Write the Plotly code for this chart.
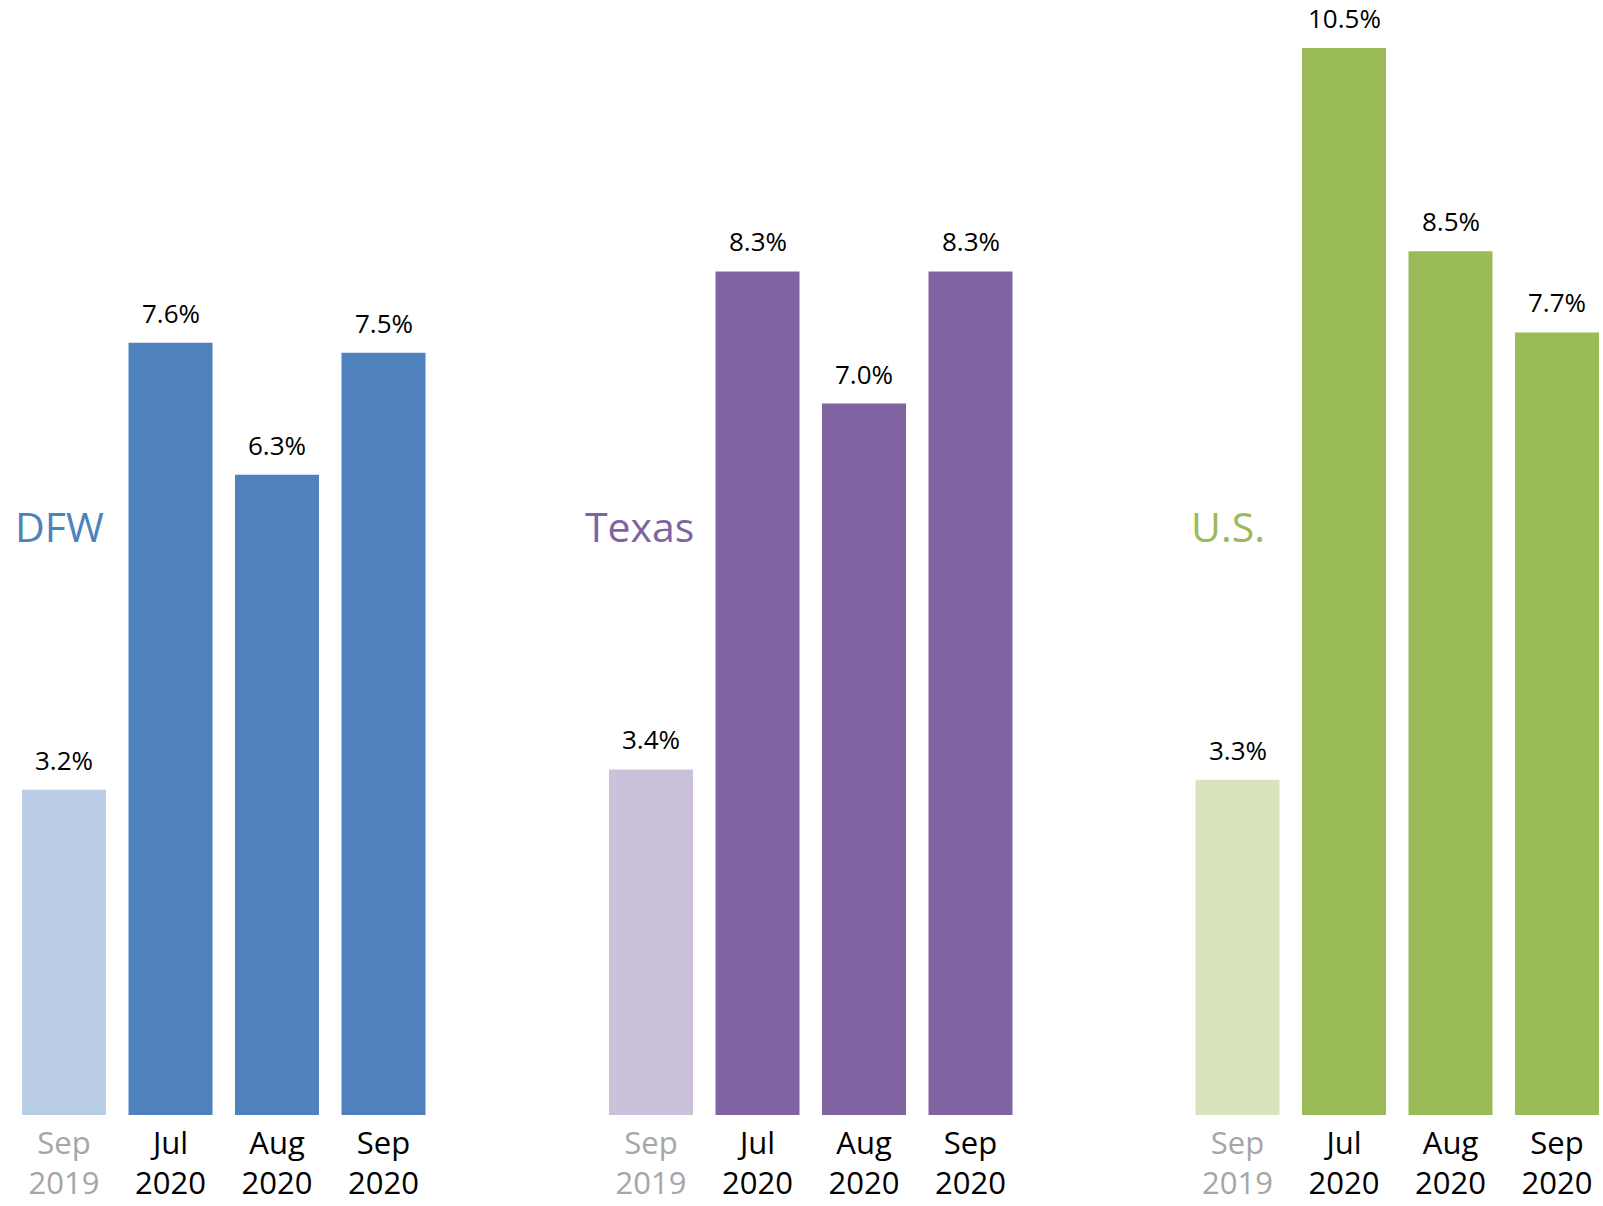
import plotly.graph_objects as go

# ---- data ----
periods = ["Sep 2019", "Jul 2020", "Aug 2020", "Sep 2020"]
regions = ["DFW", "Texas", "U.S."]
dfw_values = [3.2, 7.6, 6.3, 7.5]
texas_values = [3.4, 8.3, 7.0, 8.3]
us_values = [3.3, 10.5, 8.5, 7.7]

# ---- styles ----
dark_colors = {"DFW": "#4F81BD", "Texas": "#8064A2", "U.S.": "#9BBB59"}
light_colors = {"DFW": "#B9CDE5", "Texas": "#CCC1DA", "U.S.": "#D7E4BD"}
FONT = "Open Sans"
W, H = 1603, 1206

values_by_region = {"DFW": dfw_values, "Texas": texas_values, "U.S.": us_values}

# pixel layout of the three panels (window coords; page body margin removed)
pitch = 106.5
panel_left = {"DFW": 10.75, "Texas": 597.75, "U.S.": 1184.25}
label_left = {"DFW": 13, "Texas": 583, "U.S.": 1189}

ticktext = []
for i, p in enumerate(periods):
    m, y = p.split(" ")
    t = f"{m}<br>{y}"
    if i == 0:
        t = f"<span style='color:#A6A6A6'>{m}</span><br><span style='color:#A6A6A6'>{y}</span>"
    ticktext.append(t)

bottom_px = 1114.7
px_per_unit = 101.6
ymax = bottom_px / px_per_unit

fig = go.Figure()
annotations = []
layout_axes = {}
for k, reg in enumerate(regions):
    axname = "x" if k == 0 else f"x{k+1}"
    vals = values_by_region[reg]
    colors = [light_colors[reg]] + [dark_colors[reg]] * (len(periods) - 1)
    fig.add_trace(go.Bar(
        x=periods, y=vals, marker=dict(color=colors, line=dict(width=0)),
        xaxis=axname, yaxis="y", showlegend=False, hoverinfo="x+y",
    ))
    for p, v in zip(periods, vals):
        annotations.append(dict(
            x=p, y=v, xref=axname, yref="y", text=f"{v:.1f}%",
            showarrow=False, yanchor="bottom", yshift=10,
            font=dict(family=FONT, size=26, color="#000000"),
        ))
    annotations.append(dict(
        x=label_left[reg] / W, y=5.8, xref="paper", yref="y", text=reg,
        showarrow=False, xanchor="left", yanchor="middle",
        font=dict(family=FONT, size=41, color=dark_colors[reg]),
    ))
    left = panel_left[reg]
    right = left + 4 * pitch
    rng = [-0.5, 3.5]
    if right > W:
        rng = [-0.5, 3.5 - (right - W) / pitch]
        right = W
    key = "xaxis" if k == 0 else f"xaxis{k+1}"
    layout_axes[key] = dict(
        domain=[left / W, right / W], range=rng, anchor="y",
        type="category", tickmode="array", tickvals=periods, ticktext=ticktext,
        showgrid=False, zeroline=False, showline=False, ticks="",
        ticklabelstandoff=7, automargin=False,
        tickfont=dict(family=FONT, size=31, color="#000000"),
        fixedrange=True,
    )

fig.update_layout(
    width=W, height=H,
    margin=dict(l=0, r=0, t=0, b=H - bottom_px, autoexpand=False),
    paper_bgcolor="white", plot_bgcolor="white",
    bargap=0.211,
    yaxis=dict(range=[0, ymax], visible=False, showgrid=False, zeroline=False,
               domain=[0, 1], fixedrange=True, automargin=False),
    annotations=annotations,
    **layout_axes,
)

fig.write_html(
    "out.html",
    config={"displayModeBar": False},
    post_script="document.body.style.margin='0';document.body.style.overflow='hidden';",
)
